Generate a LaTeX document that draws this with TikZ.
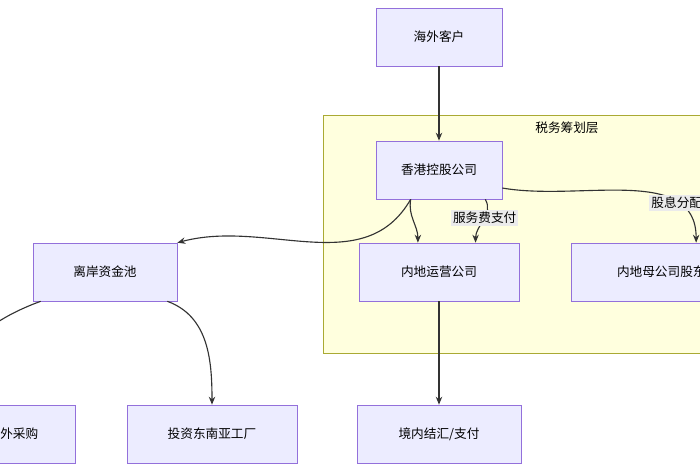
\documentclass[tikz,border=0pt]{standalone}
\usepackage{fontspec}
\newfontfamily\cjk{Noto Sans CJK SC}
\usetikzlibrary{arrows.meta, positioning}
\definecolor{nodefill}{HTML}{ECECFF}
\definecolor{nodeline}{HTML}{9370DB}
\definecolor{groupfill}{HTML}{FFFFDE}
\definecolor{groupline}{HTML}{AAAA33}
\definecolor{edgeline}{HTML}{333333}
\begin{document}
\begin{tikzpicture}[
    x=0.025cm, y=-0.025cm,
    every node/.style={font=\cjk\small},
    box/.style={rectangle, draw=nodeline, fill=nodefill, minimum height=1.45cm, align=center},
    edgelabel/.style={fill=black!8, inner sep=1.5pt, font=\cjk\small},
    arrow/.style={-{Stealth[length=2mm, width=1.6mm]}, draw=edgeline, thick},
]
\clip (0,0) rectangle (700,470);
\useasboundingbox (0,0) rectangle (700,470);

% ============ Tax planning layer ============
\draw[draw=groupline, fill=groupfill] (323,115) rectangle (760,353);
\node (layer) at (567,128) {税务筹划层};

% ============ Nodes ============
\node[box, minimum width=3.15cm] (client) at (439,37) {海外客户};
\node[box, minimum width=3.15cm] (hk) at (439,170) {香港控股公司};
\node[box, minimum width=4cm] (ops) at (439,272) {内地运营公司};
\node[box, minimum width=4.5cm, anchor=west] (parent) at (571,272) {内地母公司股东};
\node[box, minimum width=3.6cm] (pool) at (105,272) {离岸资金池};
\node[box, minimum width=3.1cm] (purchase) at (13,434) {海外采购};
\node[box, minimum width=4.25cm] (factory) at (212,434) {投资东南亚工厂};
\node[box, minimum width=4.1cm] (settle) at (439,434) {境内结汇/支付};

% ============ Edges ============
\draw[arrow] (client) -- (hk);
\draw[arrow] (hk.south west) ++(35,0) to[out=-120, in=15] (pool.north east);
\draw[arrow] (hk.south west) ++(35,0) to[out=-100, in=90] ([xshift=-15]ops.north);
\draw[arrow] (hk.south east) ++(-17,0) to[out=-60, in=90] node[edgelabel, pos=0.45] {服务费支付} ([xshift=26]ops.north);
\draw[arrow] (hk.east) ++(0,18) to[out=-10, in=90] node[edgelabel, pos=0.75] {股息分配} ([xshift=89]parent.north west);
\draw[arrow] (ops) -- (settle);
\draw[arrow] (pool.south west) ++(8,0) to[out=-160, in=90] ([xshift=-45]purchase.north);
\draw[arrow] (pool.south east) ++(-10,0) to[out=-20, in=90] (factory.north);
\end{tikzpicture}
\end{document}
